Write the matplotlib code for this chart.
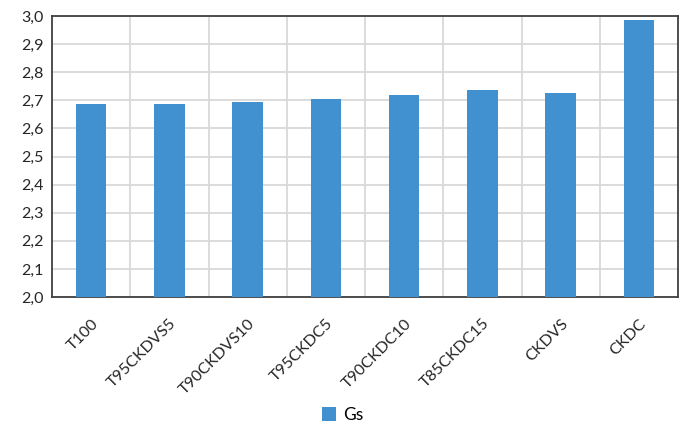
import matplotlib.pyplot as plt
import numpy as np
from matplotlib.ticker import FuncFormatter, FixedLocator
from matplotlib.transforms import ScaledTranslation

plt.rcParams['font.family'] = ['Lato', 'DejaVu Sans']

samples = ['T100', 'T95CKDVS5', 'T90CKDVS10', 'T95CKDC5',
           'T90CKDC10', 'T85CKDC15', 'CKDVS', 'CKDC']
gs = [2.688, 2.688, 2.695, 2.705, 2.720, 2.736, 2.726, 2.986]

BAR_COLOR = '#4190D0'
GRID_COLOR = '#D9D9D9'
FRAME_COLOR = '#404040'

fig = plt.figure(figsize=(6.85, 4.26), dpi=100)
ax = fig.add_axes([52 / 685, 1 - 297 / 426, 626 / 685, 281 / 426])

x = np.arange(len(samples))
ax.bar(x, gs, width=0.39, color=BAR_COLOR, label='Gs', zorder=3)

ax.set_xlim(-0.5, len(samples) - 0.5)
ax.set_ylim(2.0, 3.0)
ax.set_yticks(np.arange(2.0, 3.01, 0.1))
ax.yaxis.set_major_formatter(FuncFormatter(lambda v, _: f'{v:.1f}'.replace('.', ',')))
ax.set_xticks(x)
ax.set_xticklabels(samples, rotation=45, ha='right', va='top', rotation_mode='anchor')

# nudge rotated labels a little to the right
shift = ScaledTranslation(3 / 100, 0, fig.dpi_scale_trans)
for lbl in ax.get_xticklabels():
    lbl.set_transform(lbl.get_transform() + shift)

# vertical grid between categories
ax.xaxis.set_minor_locator(FixedLocator(x[:-1] + 0.5))
ax.grid(axis='y', which='major', color=GRID_COLOR, linewidth=1.3, zorder=0)
ax.grid(axis='x', which='minor', color=GRID_COLOR, linewidth=1.3, zorder=0)
ax.tick_params(axis='both', which='both', length=0, labelsize=11.5, colors='#262626')
ax.tick_params(axis='x', pad=14)
ax.tick_params(axis='y', pad=6)

for side in ['left', 'right', 'top', 'bottom']:
    ax.spines[side].set_color(FRAME_COLOR)
    ax.spines[side].set_linewidth(1.3)

fig.legend(loc='center', bbox_to_anchor=(0.5, 1 - 415 / 426), frameon=False,
           fontsize=12.5, handlelength=0.8, handleheight=0.8, handletextpad=0.4)

fig.savefig('out.png', dpi=100)
